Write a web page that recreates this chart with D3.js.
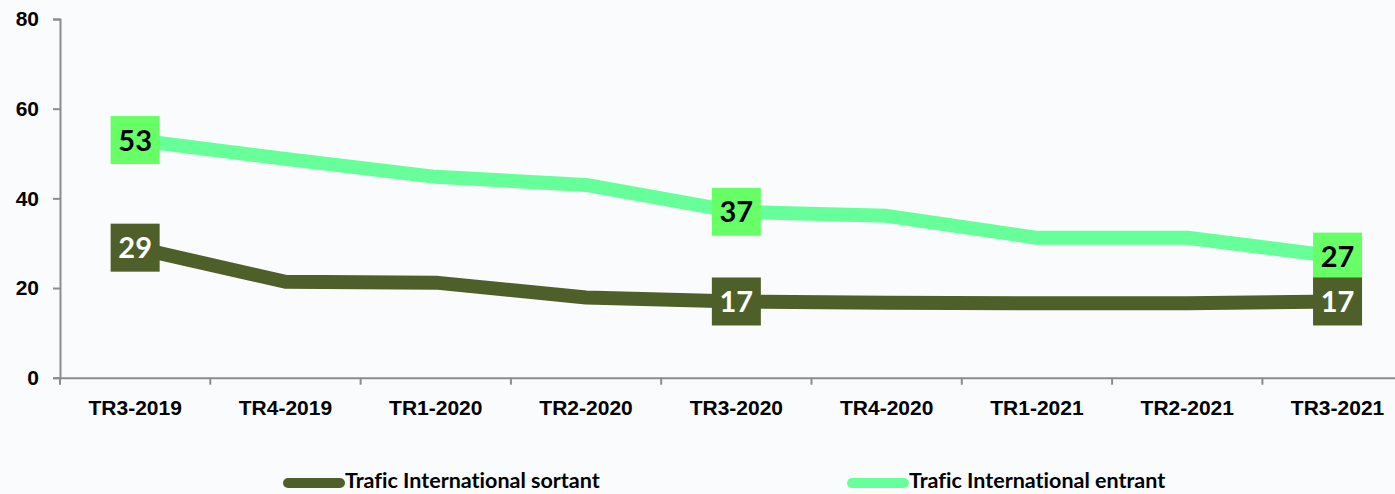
<!DOCTYPE html>
<html>
<head>
<meta charset="utf-8">
<script src="https://cdn.jsdelivr.net/npm/d3@7"></script>
<style>
  html, body { margin: 0; padding: 0; background: #fafbfc; }
  svg { display: block; font-family: Lato, "Open Sans", sans-serif; font-variant-ligatures: none; }
</style>
</head>
<body>
<svg id="chart" width="1395" height="494"></svg>
<script>
// Quarterly international traffic
const quarters = ["TR3-2019", "TR4-2019", "TR1-2020", "TR2-2020", "TR3-2020", "TR4-2020", "TR1-2021", "TR2-2021", "TR3-2021"];
const sortant = [29, 21.4, 21.2, 17.9, 17, 16.7, 16.6, 16.6, 17];
const entrant = [53, 48.8, 44.8, 43.0, 37, 36.1, 31.2, 31.2, 27];
const yTicks = [0, 20, 40, 60, 80];
const labelledQuarters = ["TR3-2019", "TR3-2020", "TR3-2021"];
const seriesNames = ["Trafic International sortant", "Trafic International entrant"];

const darkGreen = "#4f5f2a";
const lightLine = "#66ff99";
const lightBox = "#66ff66";
const axisColor = "#8c8c8c";

const svg = d3.select("#chart");
const plotLeft = 60, plotTop = 19, plotBottom = 377.7, band = 150.3;

const x = d3.scaleBand().domain(quarters).range([plotLeft, plotLeft + band * quarters.length]).padding(0);
const y = d3.scaleLinear().domain([0, 80]).range([plotBottom, plotTop]);
const cx = q => x(q) + x.bandwidth() / 2;

// Axes
const yAxis = svg.append("g")
  .attr("transform", `translate(${plotLeft},0)`)
  .call(d3.axisLeft(y).tickValues(yTicks).tickSize(7).tickPadding(14).tickSizeOuter(7));
const xAxis = svg.append("g")
  .attr("transform", `translate(0,${plotBottom})`)
  .call(d3.axisBottom(x).tickSize(0).tickPadding(22));
// x ticks at category boundaries
xAxis.selectAll(".sep").data(quarters).join("line")
  .attr("class", "sep")
  .attr("x1", q => x(q)).attr("x2", q => x(q))
  .attr("y1", 0).attr("y2", 7)
  .attr("stroke", axisColor).attr("stroke-width", 2);

[yAxis, xAxis].forEach(g => {
  g.select(".domain").attr("stroke", axisColor).attr("stroke-width", 2);
  g.selectAll(".tick line").attr("stroke", axisColor).attr("stroke-width", 2);
  g.selectAll(".tick text").attr("fill", "#000").attr("font-size", 21).attr("font-weight", "bold");
});
xAxis.selectAll(".tick text").attr("dy", "0.71em");

// Lines
const line = d3.line().x((d, i) => cx(quarters[i])).y(d => y(d));
svg.append("path").datum(entrant)
  .attr("d", line).attr("fill", "none")
  .attr("stroke", lightLine).attr("stroke-width", 14).attr("stroke-linejoin", "round");
svg.append("path").datum(sortant)
  .attr("d", line).attr("fill", "none")
  .attr("stroke", darkGreen).attr("stroke-width", 14).attr("stroke-linejoin", "round");

// Value labels
function labels(values, bg, fg) {
  const idx = quarters.map((q, i) => i).filter(i => labelledQuarters.includes(quarters[i]));
  const g = svg.append("g").selectAll("g").data(idx).join("g")
    .attr("transform", i => `translate(${cx(quarters[i])},${y(values[i])})`);
  g.append("rect").attr("x", -24.5).attr("y", -24).attr("width", 49).attr("height", 48).attr("fill", bg);
  g.append("text").attr("text-anchor", "middle").attr("dy", "0.36em")
    .attr("font-size", 29).attr("font-weight", "bold").attr("fill", fg)
    .text(i => values[i]);
}
labels(entrant, lightBox, "#000");
labels(sortant, darkGreen, "#fff");

// Legend
const legend = [
  { name: seriesNames[0], color: darkGreen, x0: 288 },
  { name: seriesNames[1], color: lightLine, x0: 852 }
];
const lg = svg.append("g").selectAll("g").data(legend).join("g")
  .attr("transform", d => `translate(${d.x0},481)`);
lg.append("line").attr("x1", 0).attr("x2", 52).attr("y1", 2).attr("y2", 2)
  .attr("stroke", d => d.color).attr("stroke-width", 10).attr("stroke-linecap", "round");
lg.append("text").attr("x", 57).attr("y", 0).attr("dy", "0.34em")
  .attr("font-size", 21.5).attr("font-weight", "bold").attr("fill", "#000")
  .text(d => d.name);
</script>
</body>
</html>
